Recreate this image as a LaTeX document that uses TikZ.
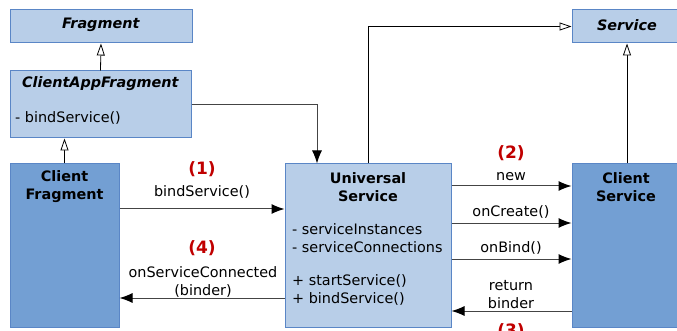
\documentclass[tikz,border=0pt]{standalone}
\usepackage{fontspec}
\setmainfont{DejaVu Sans}
\usetikzlibrary{positioning,arrows.meta}
\definecolor{boxlight}{HTML}{B8CEE8}
\definecolor{boxdark}{HTML}{739FD3}
\definecolor{boxline}{HTML}{5A86C6}
\definecolor{steptext}{HTML}{C00000}
\definecolor{wire}{HTML}{444444}

\begin{document}
\begin{tikzpicture}[x=1pt, y=-1pt,
    every node/.style={font=\fontsize{14.4}{18}\selectfont, inner sep=0pt},
    light/.style={rectangle, draw=boxline, fill=boxlight, line width=1pt},
    dark/.style={rectangle, draw=boxline, fill=boxdark, line width=1pt},
    inherit/.style={draw=black, line width=0.8pt, -{Triangle[open, length=12pt, width=8pt, fill=white]}},
    call/.style={draw=wire, line width=1pt, -{Latex[length=13pt, width=10pt, color=black]}},
    steplabel/.style={text=steptext, font=\fontsize{17}{20}\selectfont\bfseries}]
    \useasboundingbox (0,0) rectangle (677,331);

    % Klasy

    \node[light, minimum width=182pt, minimum height=33pt] (fragment) at (101,26.5) {};
    \node[light, minimum width=181pt, minimum height=67pt] (clientapp) at (100.5,104.5) {};
    \node[dark, minimum width=109pt, minimum height=163pt] (clientfrag) at (64.5,245.5) {};
    \node[light, minimum width=166pt, minimum height=163pt] (universal) at (368,245.5) {};
    \node[dark, minimum width=110pt, minimum height=163pt] (clientservice) at (627,245.5) {};
    \node[light, minimum width=110pt, minimum height=33pt] (service) at (627,26.5) {};

    % Teksty w klasach

    \node (fragmentname) at (101,25) {\textbf{\textit{Fragment}}};
    \node (clientappname) at (100.5,84) {\textbf{\textit{ClientAppFragment}}};
    \node[anchor=west] (clientappop) at (15,118) {- bindService()};
    \node[align=center] (clientfragname) at (64.5,187) {\textbf{Client}\\\textbf{Fragment}};
    \node[align=center] (universalname) at (368,187) {\textbf{Universal}\\\textbf{Service}};
    \node[align=left, anchor=west] (universalattr) at (292,238.5) {- serviceInstances\\- serviceConnections};
    \node[align=left, anchor=west] (universalop) at (292,289.5) {+ startService()\\+ bindService()};
    \node[align=center] (clientservicename) at (626,187) {\textbf{Client}\\\textbf{Service}};
    \node (servicename) at (627,25) {\textbf{\textit{Service}}};

    % Dziedziczenie

    \draw[inherit] (clientapp.north) -- (fragment.south);
    \draw[inherit] (clientfrag.north) -- (clientfrag.north |- clientapp.south);
    \draw[inherit] (universal.north) |- (service.west);
    \draw[inherit] (clientservice.north) -- (service.south);
    \draw[call] (clientapp.east) -| ([xshift=-51pt]universal.north);

    % Wywołania

    \draw[call] (clientfrag.east |- 0,209) -- (universal.west |- 0,209);
    \draw[call] (universal.west |- 0,298) -- (clientfrag.east |- 0,298);
    \draw[call] (universal.east |- 0,186) -- (clientservice.west |- 0,186);
    \draw[call] (universal.east |- 0,223) -- (clientservice.west |- 0,223);
    \draw[call] (universal.east |- 0,259) -- (clientservice.west |- 0,259);
    \draw[call] (clientservice.west |- 0,311) -- (universal.east |- 0,311);

    % Etykiety

    \node[steplabel] (one) at (202,169) {(1)};
    \node (bindlabel) at (202,192) {bindService()};
    \node[steplabel] (four) at (202,248) {(4)};
    \node[align=center] (connectedlabel) at (203,281.5) {onServiceConnected\\(binder)};
    \node[steplabel] (two) at (511,153) {(2)};
    \node (newlabel) at (511,177) {new};
    \node (createlabel) at (511,212) {onCreate()};
    \node (bindcall) at (511,248) {onBind()};
    \node[align=center] (returnlabel) at (511,294.5) {return\\binder};
    \node[steplabel] (three) at (511,331) {(3)};

\end{tikzpicture}
\end{document}
